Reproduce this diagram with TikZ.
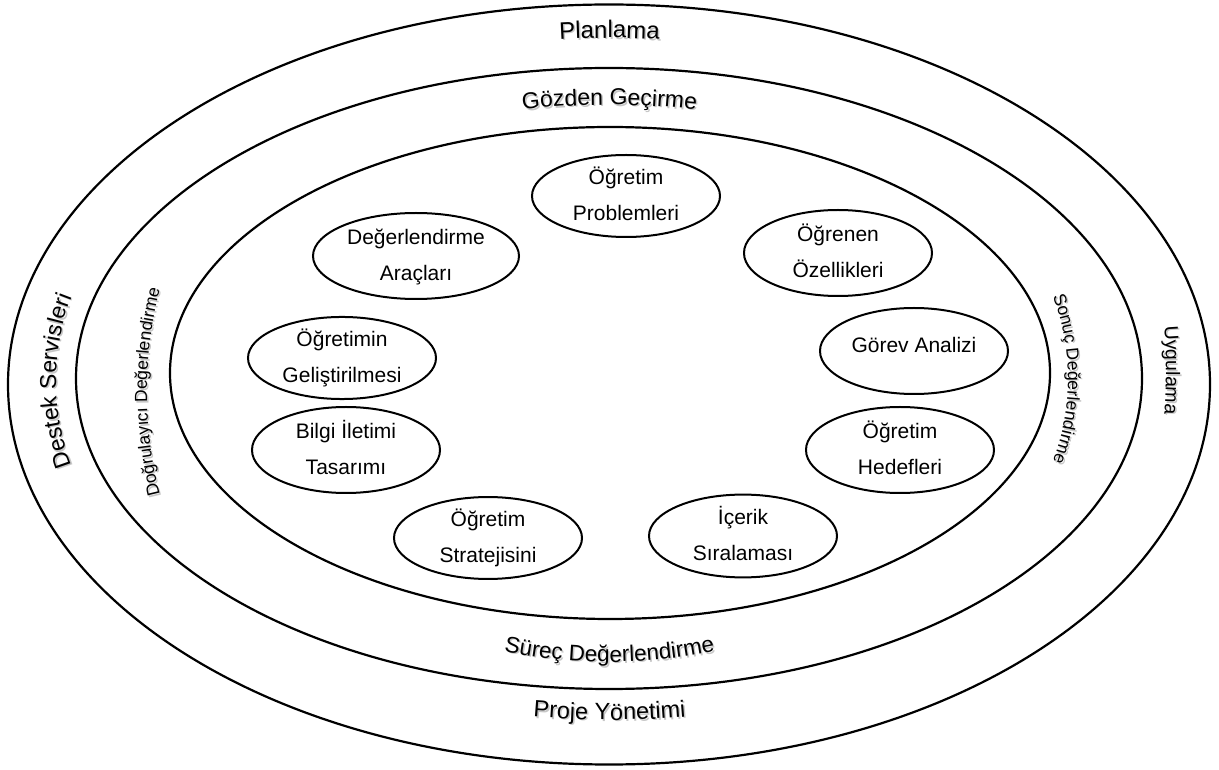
\documentclass[tikz,border=0pt]{standalone}
\usepackage{fontspec}
\setmainfont{Liberation Sans}
\usetikzlibrary{shapes.geometric,decorations.text}
\newcommand\curvedlabel[3]{%
  \path[shift={(1.5,-1.5)},decorate,decoration={text along path,text align=center,text color=black!22,text={|\fontsize{#1}{#1}\selectfont|#3}}] #2;
  \path[decorate,decoration={text along path,text align=center,text={|\fontsize{#1}{#1}\selectfont|#3}}] #2;
}
\begin{document}
\begin{tikzpicture}[x=1pt,y=1pt,
  ring/.style={draw,line width=2.2pt},
  item/.style={ellipse,draw,line width=2pt,minimum width=188pt,minimum height=82pt,inner sep=0pt,align=center,font=\fontsize{21}{36}\selectfont}]
\useasboundingbox (0,0) rectangle (1219,769);
\fill[white] (0,0) rectangle (1219,769);
% rings
\draw[ring] (609,384.5) ellipse [x radius=601, y radius=380];
\draw[ring] (609,390.5) ellipse [x radius=533, y radius=310.5];
\draw[ring] (610,396) ellipse [x radius=440, y radius=246];
% ring labels
\curvedlabel{24}{(609.5,-169) ++(100:900) arc[start angle=100,end angle=80,radius=900]}{Planlama}
\curvedlabel{23}{(609.5,-136) ++(100:800) arc[start angle=100,end angle=80,radius=800]}{Gözden Geçirme}
\curvedlabel{22.5}{(609.5,627) ++(250:520) arc[start angle=250,end angle=290,radius=520]}{Süreç Değerlendirme}
\curvedlabel{23.5}{(609.5,949) ++(260:900) arc[start angle=260,end angle=280,radius=900]}{Proje Yönetimi}
\curvedlabel{23}{(287,388) ++(215:231) arc[start angle=215,end angle=145,radius=231]}{Destek Servisleri}
\curvedlabel{17.5}{(563,377) ++(210:416) arc[start angle=210,end angle=150,radius=416]}{Doğrulayıcı Değerlendirme}
\curvedlabel{17.5}{(834,390) ++(30:234) arc[start angle=30,end angle=-30,radius=234]}{Sonuç Değerlendirme}
\curvedlabel{19.5}{(566,399) ++(15:600) arc[start angle=15,end angle=-15,radius=600]}{Uygulama}
% inner items
\node[item] (prob) at (626,573) {Öğretim\\Problemleri\vphantom{j}};
\node[item,minimum width=206pt,minimum height=86pt] (arac) at (416,513) {\vphantom{Ö}Değerlendirme\\Araçları\vphantom{j}};
\node[item,minimum height=86pt] (ogrenen) at (838,516) {Öğrenen\\Özellikleri\vphantom{j}};
\node[item,minimum height=86pt,text height=4pt,text depth=0pt] (gorev) at (914,418) {Görev Analizi};
\node[item,minimum height=86pt] (hedef) at (900,319) {Öğretim\\Hedefleri\vphantom{j}};
\node[item] (icerik) at (743,233) {İçerik\\Sıralaması\vphantom{j}};
\node[item,minimum height=80pt] (strateji) at (488,231) {Öğretim\\Stratejisini\vphantom{j}};
\node[item,minimum height=86pt] (bilgi) at (346,319) {Bilgi İletimi\\Tasarımı\vphantom{j}};
\node[item,minimum height=78pt] (gelis) at (342,411) {Öğretimin\\Geliştirilmesi\vphantom{j}};
\end{tikzpicture}
\end{document}
